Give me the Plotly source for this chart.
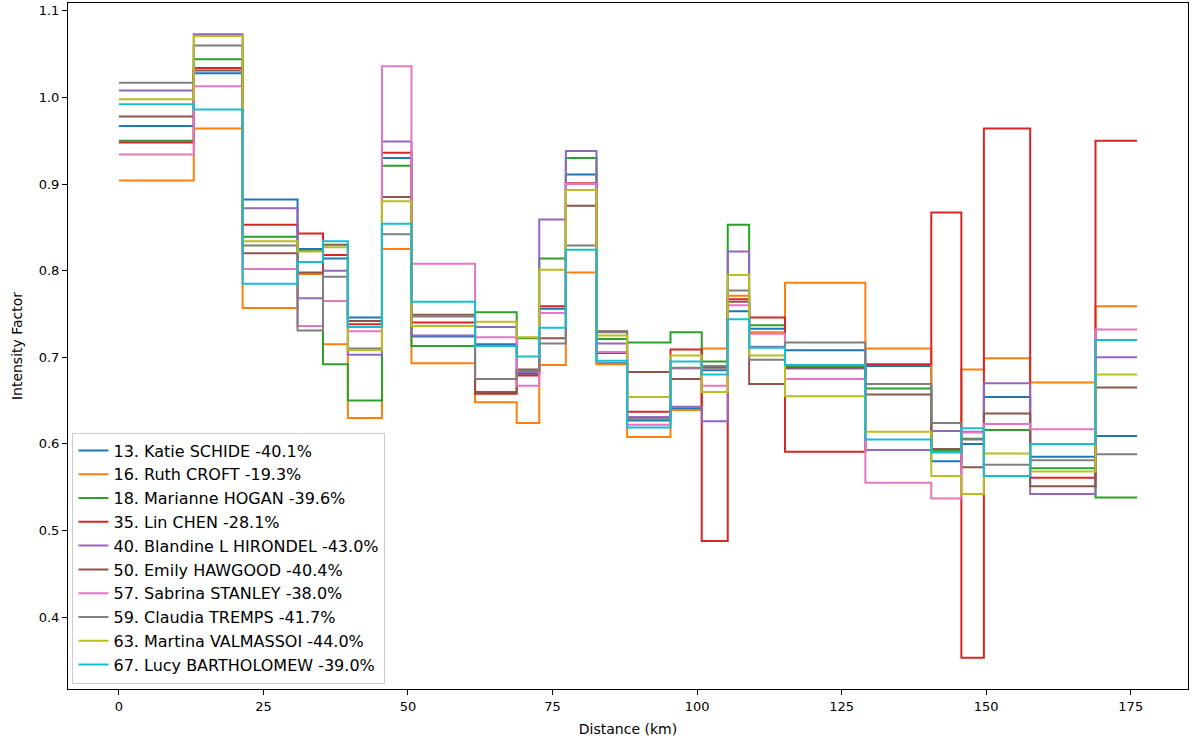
import plotly.graph_objects as go

distance_km = [0, 12.95, 21.4, 30.9, 35.3, 39.6, 45.5, 50.6, 61.6, 68.8, 72.7, 77.3, 82.6,
               87.9, 95.4, 100.8, 105.3, 109.0, 115.2, 129.1, 140.5, 145.7, 149.6, 157.6,
               168.9, 176.1]

names = [
    "13. Katie SCHIDE -40.1%",
    "16. Ruth CROFT -19.3%",
    "18. Marianne HOGAN -39.6%",
    "35. Lin CHEN -28.1%",
    "40. Blandine L HIRONDEL -43.0%",
    "50. Emily HAWGOOD -40.4%",
    "57. Sabrina STANLEY -38.0%",
    "59. Claudia TREMPS -41.7%",
    "63. Martina VALMASSOI -44.0%",
    "67. Lucy BARTHOLOMEW -39.0%",
]

katie = [0.967, 1.028, 0.882, 0.825, 0.814, 0.746, 0.930, 0.724, 0.715, 0.681, 0.756, 0.911, 0.693,
         0.627, 0.641, 0.685, 0.753, 0.733, 0.708, 0.690, 0.580, 0.600, 0.654, 0.585, 0.609]
ruth = [0.904, 0.964, 0.757, 0.796, 0.715, 0.630, 0.825, 0.693, 0.648, 0.624, 0.691, 0.798, 0.692,
        0.608, 0.639, 0.710, 0.771, 0.729, 0.786, 0.710, 0.593, 0.686, 0.699, 0.671, 0.759]
marianne = [0.950, 1.044, 0.839, 0.823, 0.692, 0.650, 0.921, 0.713, 0.752, 0.722, 0.814, 0.930, 0.721,
            0.717, 0.729, 0.695, 0.853, 0.737, 0.689, 0.664, 0.592, 0.606, 0.616, 0.572, 0.538]
lin = [0.948, 1.034, 0.853, 0.843, 0.818, 0.738, 0.936, 0.740, 0.658, 0.679, 0.759, 0.901, 0.705,
       0.637, 0.709, 0.488, 0.767, 0.746, 0.591, 0.692, 0.867, 0.353, 0.964, 0.561, 0.950]
blandine = [1.008, 1.073, 0.872, 0.768, 0.800, 0.703, 0.949, 0.725, 0.735, 0.683, 0.859, 0.938, 0.716,
            0.631, 0.643, 0.626, 0.822, 0.712, 0.687, 0.593, 0.615, 0.614, 0.670, 0.542, 0.700]
emily = [0.978, 1.031, 0.820, 0.798, 0.830, 0.742, 0.885, 0.749, 0.660, 0.686, 0.722, 0.875, 0.730,
         0.683, 0.675, 0.688, 0.764, 0.669, 0.688, 0.657, 0.594, 0.573, 0.635, 0.551, 0.665]
sabrina = [0.934, 1.013, 0.802, 0.736, 0.765, 0.730, 1.036, 0.808, 0.723, 0.667, 0.751, 0.900, 0.706,
           0.622, 0.687, 0.667, 0.760, 0.727, 0.675, 0.555, 0.537, 0.613, 0.623, 0.617, 0.732]
claudia = [1.017, 1.060, 0.829, 0.731, 0.793, 0.710, 0.842, 0.747, 0.675, 0.684, 0.716, 0.829, 0.729,
           0.629, 0.688, 0.690, 0.777, 0.697, 0.717, 0.669, 0.624, 0.605, 0.576, 0.581, 0.588]
martina = [0.998, 1.071, 0.834, 0.822, 0.827, 0.708, 0.880, 0.736, 0.741, 0.723, 0.801, 0.893, 0.725,
           0.654, 0.702, 0.660, 0.795, 0.702, 0.655, 0.614, 0.563, 0.542, 0.589, 0.568, 0.680]
lucy = [0.992, 0.986, 0.785, 0.810, 0.834, 0.735, 0.854, 0.764, 0.713, 0.701, 0.734, 0.824, 0.696,
        0.619, 0.695, 0.680, 0.744, 0.711, 0.691, 0.605, 0.590, 0.618, 0.563, 0.600, 0.720]

series = [katie, ruth, marianne, lin, blandine, emily, sabrina, claudia, martina, lucy]
colors = ["#1f77b4", "#ff7f0e", "#2ca02c", "#d62728", "#9467bd",
          "#8c564b", "#e377c2", "#7f7f7f", "#bcbd22", "#17becf"]

fig = go.Figure()
for name, vals, col in zip(names, series, colors):
    fig.add_trace(go.Scatter(
        x=distance_km, y=vals + [vals[-1]], mode="lines", name=name,
        line=dict(color=col, width=2, shape="hv"),
    ))

axis_common = dict(showline=True, linecolor="black", linewidth=1, mirror=True,
                   ticks="outside", ticklen=5, tickcolor="black", showgrid=False,
                   zeroline=False, automargin=False,
                   tickfont=dict(size=13, color="black"))

fig.update_layout(
    width=1200, height=748,
    margin=dict(l=68, r=12, t=3, b=59),
    paper_bgcolor="white", plot_bgcolor="white",
    font=dict(family="DejaVu Sans", size=13, color="black"),
    xaxis=dict(range=[-8.8, 184.9], tickvals=[0, 25, 50, 75, 100, 125, 150, 175],
               title=dict(text="Distance (km)", font=dict(size=14), standoff=11), **axis_common),
    yaxis=dict(range=[0.317, 1.109], tickvals=[0.4, 0.5, 0.6, 0.7, 0.8, 0.9, 1.0, 1.1],
               tickformat=".1f",
               title=dict(text="Intensity Factor", font=dict(size=14), standoff=12), **axis_common),
    legend=dict(x=0.004, y=0.008, xanchor="left", yanchor="bottom",
                bgcolor="rgba(255,255,255,0.8)", bordercolor="#cccccc", borderwidth=1,
                font=dict(size=16), tracegroupgap=0),
    showlegend=True,
)

fig.write_html("out.html", config={"displayModeBar": False},
               post_script="document.body.style.margin='0';")
